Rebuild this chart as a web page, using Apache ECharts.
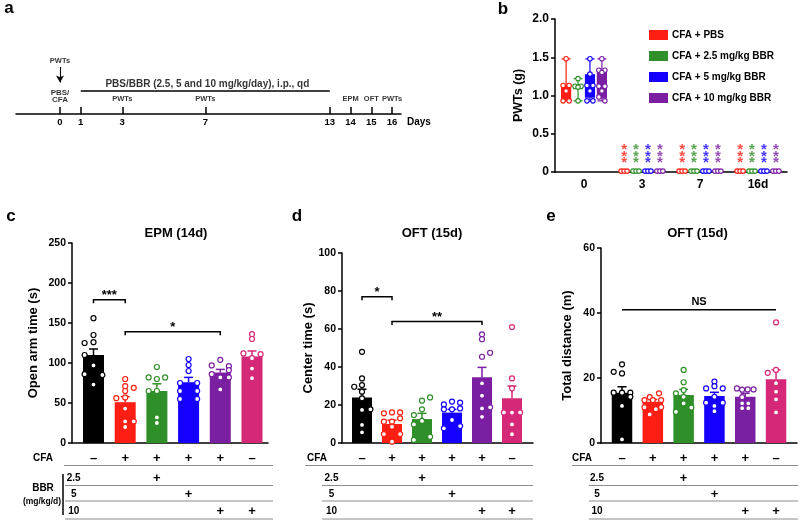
<!DOCTYPE html>
<html>
<head>
<meta charset="utf-8">
<script src="https://cdn.jsdelivr.net/npm/echarts@6/dist/echarts.min.js"></script>
<style>
html, body { margin: 0; padding: 0; background: #fff; }
#main { width: 800px; height: 521px; }
</style>
</head>
<body>
<div id="main"></div>
<script>
const FONT = '"Liberation Sans", Arial, sans-serif';
const groupColors = ['#000000', '#ff1e14', '#2f8f28', '#1500ff', '#7b1fa2', '#d62878'];

// a: timeline
const timelineDays = [0, 1, 3, 7, 13, 14, 15, 16];
const timelineNotes = [[3, 'PWTs'], [7, 'PWTs'], [14, 'EPM'], [15, 'OFT'], [16, 'PWTs']];
const treatmentDays = [1, 13];
const treatmentText = 'PBS/BBR (2.5, 5 and 10 mg/kg/day), i.p., qd';

// b: PWTs, boxplots [min, Q1, median, Q3, max] for days 0, 3, 7, 16
const pwtDays = ['0', '3', '7', '16d'];
const pwtGroups = ['CFA + PBS', 'CFA + 2.5 mg/kg BBR', 'CFA + 5 mg/kg BBR', 'CFA + 10 mg/kg BBR'];
const pwtColors = ['#ff1e14', '#2f8f28', '#1500ff', '#7b1fa2'];
const pwtLowBox = [0.005, 0.008, 0.012, 0.016, 0.02];
const pwtBoxRed = [[0.93, 0.93, 1.1, 1.13, 1.48], pwtLowBox, pwtLowBox, pwtLowBox];
const pwtBoxGreen = [[0.93, 1.09, 1.12, 1.14, 1.22], pwtLowBox, pwtLowBox, pwtLowBox];
const pwtBoxBlue = [[0.93, 0.98, 1.12, 1.27, 1.48], pwtLowBox, pwtLowBox, pwtLowBox];
const pwtBoxPurple = [[0.93, 0.97, 1.12, 1.33, 1.48], pwtLowBox, pwtLowBox, pwtLowBox];
// day-0 points: [jitter px, value]
const pwtDay0Red = [[0, 1.48], [-3, 1.13], [3, 1.13], [0, 1.06], [-3, 0.93], [3, 0.93]];
const pwtDay0Green = [[0, 1.22], [-3, 1.12], [3, 1.12], [0, 1.11], [0, 0.93]];
const pwtDay0Blue = [[0, 1.48], [0, 1.28], [-3, 1.13], [3, 1.13], [0, 1.06], [-3, 0.93], [3, 0.93]];
const pwtDay0Purple = [[0, 1.48], [-3, 1.33], [3, 1.33], [0, 1.3], [-3, 1.12], [3, 1.12], [0, 1.06], [-3, 0.98], [3, 0.93]];
const pwtLowPoints = [[-3, 0.012], [0, 0.012], [3, 0.012]];
const starLevels = [0.16, 0.245, 0.33];

// c: EPM open arm time (s)
const epmMean = [110, 51, 65, 76, 88, 108];
const epmSem = [7.5, 7, 9, 6, 4, 7];
const epmPoints = [
  [[0, 156], [0, 135], [-0.28, 125], [0, 126], [-0.28, 110], [0, 97], [-0.28, 86], [0.28, 85], [0, 73]],
  [[0, 80], [0, 71], [0.27, 69], [0, 65], [-0.28, 56], [0, 57], [0, 43], [0.27, 27], [0, 27], [0, 20]],
  [[0, 95], [-0.26, 82], [0, 80], [0.26, 82], [-0.26, 65], [0, 65], [0, 32], [0, 25]],
  [[0, 105], [0, 97.5], [0, 90], [-0.27, 75], [0.27, 75], [-0.27, 65], [0.27, 65], [-0.27, 55], [0.27, 55]],
  [[0, 104], [-0.27, 97], [0.27, 96], [0.27, 91], [-0.27, 86], [0, 82], [0.27, 82], [0, 67]],
  [[0, 136], [0, 130], [-0.27, 112], [0.27, 111], [0, 106], [0, 93], [0, 81]]
];
const epmBrackets = [[0, 1, 179], [1, 4, 139]];
const epmStars = ['***', '*'];

// d: OFT center time (s)
const centerMean = [24, 10, 12.6, 16, 34.6, 23.5];
const centerSem = [4.3, 2, 3, 1.7, 5.2, 6.5];
const centerPoints = [
  [[0, 48], [0, 34], [0, 30.5], [-0.26, 29.6], [0, 27], [0, 23.5], [0, 17.4], [0.28, 17.7], [0, 9.5], [0, 5.6]],
  [[-0.27, 15.6], [0, 16.1], [0.27, 16.1], [0.27, 13], [-0.27, 11.2], [0, 11.2], [0, 8.6], [-0.27, 4.7], [0.27, 4.7], [0, 0.7]],
  [[0.27, 24], [0, 22.3], [0, 17.7], [-0.27, 14.7], [0, 11.6], [-0.27, 9.8], [0.27, 3.3], [-0.27, 1.6]],
  [[0, 21.8], [0.27, 21.2], [-0.27, 20.3], [0.27, 18.2], [0, 17.7], [-0.27, 17.7], [0, 12.1], [0.27, 8.9], [-0.27, 7.7]],
  [[0, 57.2], [0, 54.6], [0.27, 47.5], [0, 45.4], [0, 31.4], [0, 24.9], [0.27, 18.8], [0, 18.2], [0, 13.8]],
  [[0, 61], [0, 34], [0, 28.8], [-0.27, 16.1], [0.27, 16.1], [0, 16], [0, 9.8], [0, 4.6]]
];
const centerBrackets = [[0, 1, 77], [1, 4, 64]];
const centerStars = ['*', '**'];

// e: OFT total distance (m)
const distMean = [15.5, 12.7, 14.8, 14.5, 14.2, 19.6];
const distSem = [1.8, 0.7, 1.7, 1.1, 1.1, 2.9];
const distPoints = [
  [[0, 24.2], [-0.27, 21.9], [0, 21.4], [-0.27, 15.5], [0, 15.5], [0.27, 15.5], [0.27, 14.2], [0, 11.4], [0, 1.1]],
  [[0.2, 15.3], [-0.1, 14.1], [-0.27, 13.2], [0, 13.2], [0.27, 13.2], [-0.27, 11], [0.27, 11], [0.1, 10.4], [-0.1, 8.8]],
  [[0, 22.5], [0, 18.7], [0, 16.3], [-0.25, 15.3], [0, 14.2], [0, 12.2], [0.25, 10.9], [-0.25, 9.6]],
  [[0, 18.9], [0, 17.5], [-0.27, 16.8], [0.27, 16.8], [0, 14.2], [-0.27, 12.4], [0.27, 12.4], [0, 11.4], [0, 9.8]],
  [[-0.27, 16.8], [-0.1, 16.4], [0.08, 16.5], [0.27, 16.5], [-0.1, 14.1], [-0.1, 12.2], [0.1, 12.2], [-0.1, 10.7], [0.1, 10.7]],
  [[0, 37.1], [0, 22.5], [-0.27, 21.6], [0, 18.4], [0, 15.8], [0, 13.4], [0, 9.4]]
];
const distBrackets = [[0, 5, 41]];
const distStars = ['NS'];

// table under c-e
const cfaSigns = ['–', '+', '+', '+', '+', '–'];
const bbr25Signs = ['', '', '+', '', '', ''];
const bbr5Signs = ['', '', '', '+', '', ''];
const bbr10Signs = ['', '', '', '', '+', '+'];
const doseLabels = ['2.5', '5', '10'];

const chart = echarts.init(document.getElementById('main'));

const black = { color: '#000', width: 1.5 };
const boldLabel = size => ({ color: '#000', fontWeight: 'bold', fontSize: size, fontFamily: FONT });

function valueY(k, min, max, interval, name, nameGap) {
  return {
    gridIndex: k, type: 'value', min, max, interval,
    axisLine: { show: true, onZero: false, lineStyle: black },
    axisTick: { show: true, length: 4, lineStyle: black },
    axisLabel: Object.assign(boldLabel(10.5), { margin: 6 }),
    splitLine: { show: false },
    name, nameLocation: 'middle', nameRotate: 90, nameGap,
    nameTextStyle: boldLabel(13)
  };
}
function hiddenX(k, min, max) {
  return {
    gridIndex: k, type: 'value', min, max,
    axisLine: { show: true, onZero: false, lineStyle: black },
    axisTick: { show: false }, axisLabel: { show: false }, splitLine: { show: false }
  };
}

function errorBar(params, api) {
  const i = api.value(0), m = api.value(1), s = api.value(2);
  const base = api.coord([i, m]);
  const top = api.coord([i, m + s]);
  const style = { stroke: groupColors[params.dataIndex], lineWidth: 1.5 };
  return {
    type: 'group',
    children: [
      { type: 'line', shape: { x1: base[0], y1: base[1], x2: top[0], y2: top[1] }, style },
      { type: 'line', shape: { x1: top[0] - 4.5, y1: top[1], x2: top[0] + 4.5, y2: top[1] }, style }
    ]
  };
}

function barPanel(k, means, sems, points, barWidth) {
  return [
    {
      type: 'bar', xAxisIndex: k, yAxisIndex: k, barWidth,
      data: means.map((m, i) => ({ value: [i, m], itemStyle: { color: groupColors[i] } }))
    },
    {
      type: 'custom', xAxisIndex: k, yAxisIndex: k, clip: false, z: 3,
      renderItem: errorBar,
      data: means.map((m, i) => [i, m, sems[i]])
    },
    {
      type: 'scatter', xAxisIndex: k, yAxisIndex: k, symbolSize: 5, z: 4,
      itemStyle: { color: '#fff', borderWidth: 1.2, opacity: 1 },
      data: points.flatMap((g, i) => g.map(([dx, v]) => ({
        value: [i + dx, v], itemStyle: { borderColor: groupColors[i] }
      })))
    }
  ];
}

function bracketSeries(k, spans, labels, tick, fontSize, textLift) {
  return {
    type: 'custom', xAxisIndex: k, yAxisIndex: k, clip: false, z: 5,
    data: spans,
    renderItem(params, api) {
      const y = api.value(2);
      const a = api.coord([api.value(0), y]);
      const b = api.coord([api.value(1), y]);
      const pts = tick ? [[a[0], a[1] + tick], a, b, [b[0], b[1] + tick]] : [a, b];
      const font = 'bold ' + fontSize + 'px ' + FONT;
      return {
        type: 'group',
        children: [
          { type: 'polyline', shape: { points: pts }, style: { stroke: '#000', lineWidth: 1.5, fill: null } },
          {
            type: 'text', x: (a[0] + b[0]) / 2, y: a[1] - textLift,
            style: {
              text: labels[params.dataIndex], font, fill: '#000',
              align: 'center', verticalAlign: 'middle',
              textAlign: 'center', textVerticalAlign: 'middle'
            }
          }
        ]
      };
    }
  };
}

// boxplot offsets inside a category band (same rule as ECharts boxplot layout)
const bBand = 232 / pwtDays.length;
const bAvail = bBand * 0.8 - 2;
const bGap = bAvail / 4 * 0.3;
const bBoxW = (bAvail - bGap * 3) / 4;
const boxOffsets = [0, 1, 2, 3].map(i => bBoxW / 2 - bAvail / 2 + i * (bGap + bBoxW));

const pwtBoxes = [pwtBoxRed, pwtBoxGreen, pwtBoxBlue, pwtBoxPurple];
const pwtDay0 = [pwtDay0Red, pwtDay0Green, pwtDay0Blue, pwtDay0Purple];

const boxSeries = pwtGroups.map((name, s) => ({
  type: 'boxplot', name, xAxisIndex: 1, yAxisIndex: 1,
  boxWidth: [9, 9],
  itemStyle: { color: pwtColors[s], borderColor: pwtColors[s], borderWidth: 1.2 },
  data: pwtBoxes[s]
}));
const boxPointSeries = pwtGroups.map((name, s) => {
  const data = [];
  pwtDays.forEach((d, di) => {
    const pts = di === 0 ? pwtDay0[s] : pwtLowPoints;
    pts.forEach(([dx, v]) => data.push({ value: [di, v], symbolOffset: [boxOffsets[s] + dx, 0] }));
  });
  return {
    type: 'scatter', name: name + ' points', xAxisIndex: 1, yAxisIndex: 1, z: 4,
    symbolSize: 4.5,
    itemStyle: { color: '#fff', borderColor: pwtColors[s], borderWidth: 1.1, opacity: 1 },
    data
  };
});
const starSeries = pwtGroups.map((name, s) => {
  const data = [];
  [1, 2, 3].forEach(di => starLevels.forEach(v => data.push({ value: [di, v], symbolOffset: [boxOffsets[s], 0] })));
  return {
    type: 'scatter', name: name + ' stars', xAxisIndex: 1, yAxisIndex: 1, z: 5,
    symbolSize: 1, itemStyle: { color: 'transparent' },
    label: {
      show: true, formatter: '*', position: 'inside', offset: [0, 3.5],
      color: pwtColors[s], fontWeight: 'bold', fontSize: 15, fontFamily: FONT
    },
    data
  };
});

// timeline annotations (y value = px above the day axis)
const noteLabel = { show: true, position: 'inside', color: '#000', fontWeight: 'bold', fontSize: 7.5, fontFamily: FONT, formatter: p => p.data[2] };
const timelineSeries = [
  {
    type: 'line', xAxisIndex: 0, yAxisIndex: 0, data: [], silent: true,
    markLine: {
      silent: true, animation: false, label: { show: false },
      lineStyle: { color: '#000', width: 1.5, type: 'solid' },
      symbol: 'none',
      data: [
        [{ coord: [treatmentDays[0], 23.3] }, { coord: [treatmentDays[1], 23.3] }],
        [{ coord: [0, 47], symbol: 'none' }, { coord: [0, 31.5], symbol: 'arrow', symbolSize: [6, 7], lineStyle: { width: 1.1 } }]
      ]
    }
  },
  {
    type: 'scatter', xAxisIndex: 0, yAxisIndex: 0, symbolSize: 1, itemStyle: { color: 'transparent' },
    label: noteLabel,
    data: timelineNotes.map(([d, t]) => [d, 14.7, t]).concat([[0, 53, 'PWTs']])
  },
  {
    type: 'scatter', xAxisIndex: 0, yAxisIndex: 0, symbolSize: 1, itemStyle: { color: 'transparent' },
    label: Object.assign({}, noteLabel, { fontSize: 8, lineHeight: 7 }),
    data: [[0, 18, 'PBS/\nCFA']]
  },
  {
    type: 'scatter', xAxisIndex: 0, yAxisIndex: 0, symbolSize: 1, itemStyle: { color: 'transparent' },
    label: Object.assign({}, noteLabel, { fontSize: 10 }),
    data: [[(treatmentDays[0] + treatmentDays[1]) / 2 + 0.1, 30, treatmentText]]
  }
];

const option = {
  animation: false,
  backgroundColor: '#fff',
  textStyle: { fontFamily: FONT },
  grid: [
    { left: 16, top: 60, width: 385, height: 54, outerBoundsMode: 'none' },
    { left: 555, top: 19, width: 232, height: 153, outerBoundsMode: 'none' },
    { left: 72, top: 243, width: 196, height: 200, outerBoundsMode: 'none' },
    { left: 342, top: 253, width: 191, height: 190, outerBoundsMode: 'none' },
    { left: 601, top: 248, width: 196, height: 195, outerBoundsMode: 'none' }
  ],
  legend: {
    data: pwtGroups, orient: 'vertical', left: 644, top: 23.5,
    itemWidth: 17, itemHeight: 8, itemGap: 8, icon: 'rect', selectedMode: false,
    textStyle: { color: '#000', fontWeight: 'bold', fontSize: 10, lineHeight: 13, fontFamily: FONT }
  },
  xAxis: [
    {
      gridIndex: 0, type: 'value', min: -2.12, max: 16.43,
      axisLine: { show: true, onZero: false, lineStyle: black },
      axisTick: { show: true, inside: true, length: 7, customValues: timelineDays, lineStyle: black },
      axisLabel: Object.assign(boldLabel(9.5), { customValues: timelineDays, margin: 3 }),
      splitLine: { show: false },
      name: 'Days', nameLocation: 'end', nameGap: 6,
      nameTextStyle: Object.assign(boldLabel(10), { verticalAlign: 'top', padding: [3, 0, 0, 0] })
    },
    {
      gridIndex: 1, type: 'category', data: pwtDays,
      axisLine: { show: true, lineStyle: black },
      axisTick: { show: false },
      axisLabel: Object.assign(boldLabel(12), { margin: 7 })
    },
    hiddenX(2, -0.678, 5.505),
    hiddenX(3, -0.667, 5.7),
    hiddenX(4, -0.682, 5.68)
  ],
  yAxis: [
    { gridIndex: 0, type: 'value', min: 0, max: 54, show: false },
    Object.assign(valueY(1, 0, 2, 0.5, 'PWTs (g)', 30), {
      axisLabel: Object.assign(boldLabel(12), { margin: 6, formatter: v => (v === 0 ? '0' : v.toFixed(1)) }),
      nameTextStyle: boldLabel(12.5)
    }),
    valueY(2, 0, 250, 50, 'Open arm time (s)', 32),
    valueY(3, 0, 100, 20, 'Center time (s)', 25.5),
    valueY(4, 0, 60, 20, 'Total distance (m)', 27.5)
  ],
  series: [].concat(
    timelineSeries,
    boxSeries, boxPointSeries, starSeries,
    barPanel(2, epmMean, epmSem, epmPoints, 21),
    barPanel(3, centerMean, centerSem, centerPoints, 20),
    barPanel(4, distMean, distSem, distPoints, 20.5),
    [
      bracketSeries(2, epmBrackets, epmStars, 3.5, 13, 4),
      bracketSeries(3, centerBrackets, centerStars, 3.5, 13, 4),
      bracketSeries(4, distBrackets, distStars, 0, 11, 8)
    ]
  )
};
chart.setOption(option);

// panel letters, titles and the treatment table (x positions from each panel's axis)
function txt(x, y, text, size, align, weight) {
  return {
    type: 'text', x, y, silent: true,
    style: {
      text, fill: '#000', font: (weight || 'bold') + ' ' + size + 'px ' + FONT,
      align: align || 'center', verticalAlign: 'middle',
      textAlign: align || 'center', textVerticalAlign: 'middle'
    }
  };
}
function hline(x1, x2, y, color, width) {
  return { type: 'line', silent: true, shape: { x1, y1: y, x2, y2: y }, style: { stroke: color, lineWidth: width } };
}

const graphics = [
  txt(9, 8.5, 'a', 17), txt(503, 9, 'b', 17),
  txt(11, 216, 'c', 17), txt(297, 216, 'd', 17), txt(551, 216, 'e', 17),
  txt(176, 233, 'EPM (14d)', 13), txt(432, 233, 'OFT (15d)', 13), txt(697.5, 233, 'OFT (15d)', 13)
];

const tableRows = [cfaSigns, bbr25Signs, bbr5Signs, bbr10Signs];
const rowY = [458, 478, 494.5, 511];
const rowLineY = [465.5, 485.5, 501, 519];
const tablePanels = [
  { axis: 2, cfaX: 43, cfaLineX: 64, doseX: 73.7, lineX: 65, right: 273 },
  { axis: 3, cfaX: 317, cfaLineX: 305, doseX: 331.5, lineX: 322, right: 533 },
  { axis: 4, cfaX: 582, cfaLineX: 572, doseX: 597, lineX: 589, right: 798 }
];
tablePanels.forEach(tp => {
  const xs = groupColors.map((c, i) => chart.convertToPixel({ xAxisIndex: tp.axis }, i));
  graphics.push(txt(tp.cfaX, rowY[0], 'CFA', 10));
  doseLabels.forEach((d, r) => graphics.push(txt(tp.doseX, rowY[r + 1], d, 10)));
  tableRows.forEach((row, r) => {
    row.forEach((s, i) => { if (s) graphics.push(txt(xs[i], rowY[r], s, 13)); });
    graphics.push(hline(r === 0 ? tp.cfaLineX : tp.lineX, tp.right, rowLineY[r], '#8c8c8c', 1));
  });
});
graphics.push(txt(43, 488, 'BBR', 10));
graphics.push(txt(42, 501.5, '(mg/kg/d)', 8.5));
graphics.push({ type: 'line', silent: true, shape: { x1: 63, y1: 474, x2: 63, y2: 515 }, style: { stroke: '#000', lineWidth: 1.5 } });

chart.setOption({ graphic: { elements: graphics } });
</script>
</body>
</html>
